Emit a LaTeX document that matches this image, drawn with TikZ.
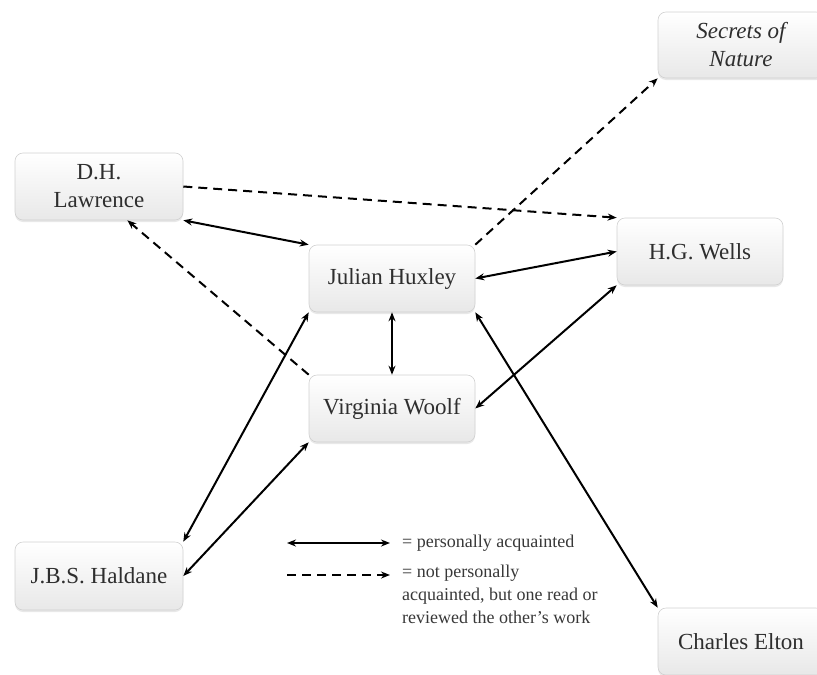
\documentclass[tikz,border=0pt]{standalone}
\usepackage{fontspec}
\setmainfont{Liberation Serif}
\usetikzlibrary{arrows.meta,shadows}
\tikzset{
  person/.style={rectangle, rounded corners=8pt, draw=black!18, line width=0.6pt,
    top color=white, bottom color=black!9, minimum width=166pt, minimum height=67pt,
    inner sep=2pt, align=center, text=black!82,
    font=\fontsize{23}{28}\selectfont,
    drop shadow={opacity=0.18, shadow xshift=0pt, shadow yshift=-2pt}},
  acq/.style={line width=2pt, {Stealth[length=9pt,width=7pt]}-{Stealth[length=9pt,width=7pt]}},
  readw/.style={line width=2pt, dash pattern=on 9pt off 6pt, -{Stealth[length=9pt,width=7pt]}},
  legtext/.style={inner sep=0pt, text=black!78, align=left, font=\fontsize{18}{23}\selectfont}
}
\begin{document}
\begin{tikzpicture}[x=1pt,y=-1pt]
\useasboundingbox (0,0) rectangle (817,675);
\begin{scope}
\clip (0,0) rectangle (817,675);
\node[person, minimum width=168pt] (law) at (99,186.5) {D.H.\\Lawrence};
\node[person] (hux) at (392,278.5) {Julian Huxley};
\node[person] (woolf) at (392,408.5) {Virginia Woolf};
\node[person] (wells) at (700,251.5) {H.G. Wells};
\node[person, minimum height=66pt] (secrets) at (741,45) {\itshape Secrets of\\\itshape Nature};
\node[person, minimum width=168pt, minimum height=68pt] (haldane) at (99,576) {J.B.S. Haldane};
\node[person] (elton) at (741,641.5) {Charles Elton};
\end{scope}

\draw[readw] (law.east) -- (wells.north west);
\draw[acq] (law.south east) -- (hux.north west);
\draw[readw] (woolf.north west) -- (law.-50);
\draw[readw] (hux.north east) -- (secrets.south west);
\draw[acq] (hux.east) -- (wells.west);
\draw[acq] (hux.south) -- (woolf.north);
\draw[acq] (woolf.east) -- (wells.south west);
\draw[acq] (hux.south west) -- (haldane.north east);
\draw[acq] (woolf.south west) -- (haldane.east);
\draw[acq] (hux.south east) -- (elton.north west);

\coordinate (l1a) at (287,543);
\coordinate (l1b) at (390,543);
\coordinate (l2a) at (287,575);
\coordinate (l2b) at (390,575);
\draw[acq] (l1a) -- (l1b);
\draw[readw] (l2a) -- (l2b);
\node[legtext, anchor=west] (t1) at (402,543) {= personally acquainted};
\node[legtext, anchor=north west] (t2) at (402,565) {= not personally\\acquainted, but one read or\\reviewed the other’s work};
\end{tikzpicture}
\end{document}
